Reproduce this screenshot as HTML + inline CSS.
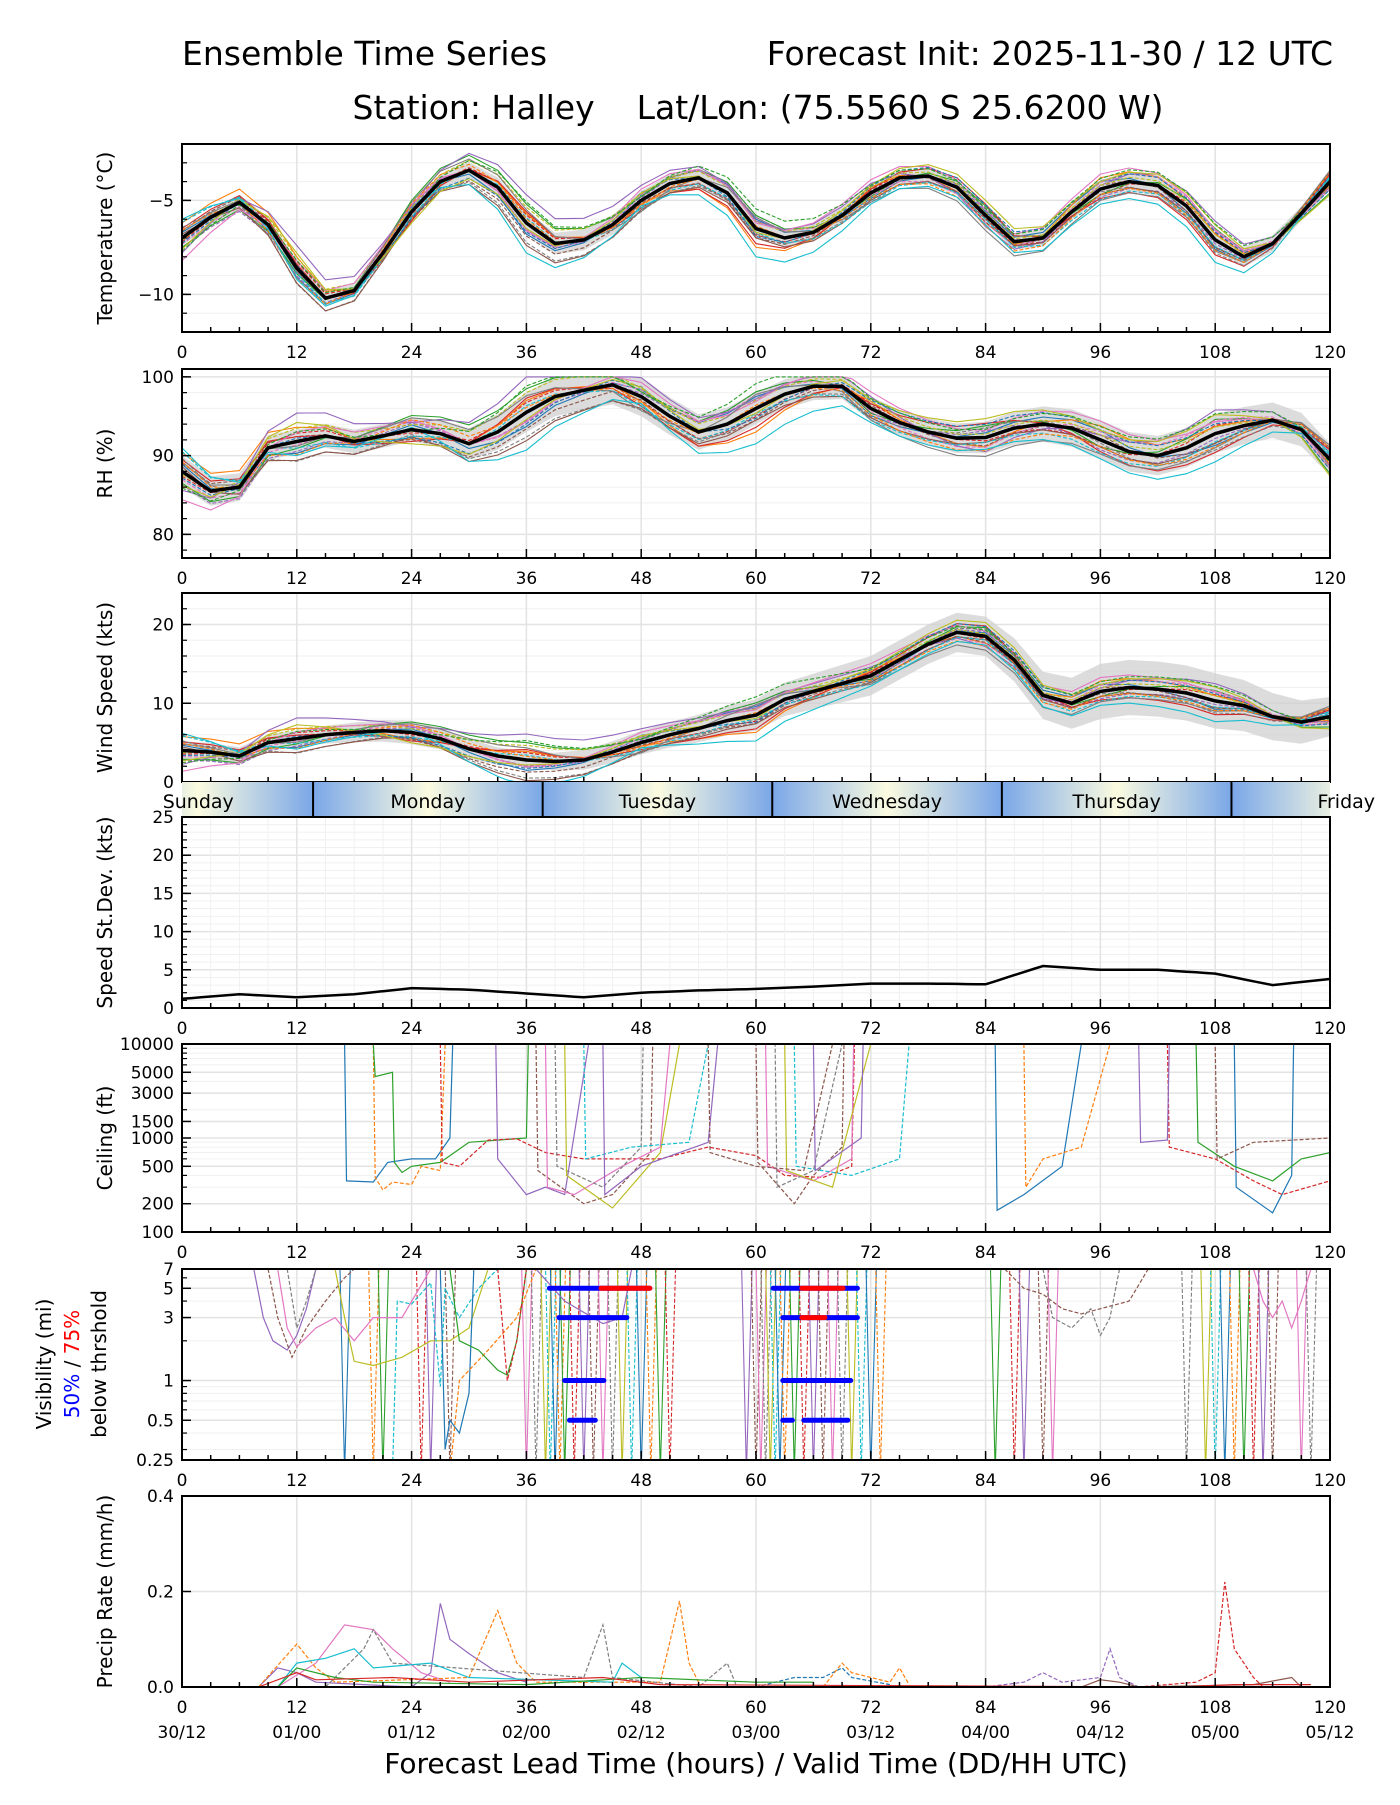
<!DOCTYPE html>
<html><head><meta charset="utf-8"><style>
body{margin:0;background:#fff}
svg text{font-family:"DejaVu Sans","Liberation Sans",sans-serif;fill:#000}
</style></head><body>
<svg id="chart" xmlns="http://www.w3.org/2000/svg" width="1400" height="1800" viewBox="0 0 1400 1800">
<rect width="1400" height="1800" fill="#fff"/>
<text x="182" y="65" font-size="33">Ensemble Time Series</text>
<text x="1333" y="65" font-size="33" text-anchor="end">Forecast Init: 2025-11-30 / 12 UTC</text>
<text x="758" y="119" font-size="33" text-anchor="middle" style="white-space:pre" xml:space="preserve">Station: Halley    Lat/Lon: (75.5560 S 25.6200 W)</text>
<text x="756" y="1773" font-size="28" text-anchor="middle">Forecast Lead Time (hours) / Valid Time (DD/HH UTC)</text>
</svg>
<script>
const tempMean=[-7.0,-5.9,-5.1,-6.3,-8.6,-10.2,-9.8,-7.8,-5.6,-4.0,-3.4,-4.3,-6.2,-7.3,-7.1,-6.3,-5.0,-4.1,-3.8,-4.6,-6.5,-7.0,-6.7,-5.8,-4.6,-3.8,-3.7,-4.3,-5.8,-7.2,-7.0,-5.6,-4.4,-4.0,-4.2,-5.3,-7.1,-8.0,-7.3,-5.7,-4.0];
const rhMean=[88,85.5,86,91,91.8,92.5,91.8,92.5,93.3,92.8,91.5,93,95.5,97.5,98.3,99,97.5,95,93,94,96,97.8,98.8,98.8,96,94.2,93,92.2,92.3,93.5,94,93.5,92,90.5,90,91,92.8,93.8,94.5,93.3,89.5];
const windMean=[4,3.8,3.3,5,5.5,6,6.3,6.5,6.3,5.5,4.2,3.3,2.8,2.6,2.8,3.8,5,6,6.8,7.8,8.5,10.5,11.5,12.5,13.5,15.5,17.5,19,18.5,15.5,11,10,11.5,12,11.8,11.3,10.3,9.7,8.3,7.6,8.3];
const stdDev=[1.2,1.8,1.4,1.8,2.6,2.4,1.9,1.4,2.0,2.3,2.5,2.8,3.2,3.2,3.1,5.5,5.0,5.0,4.5,3.0,3.8];
const tempBand=[0.4,0.4,0.3,0.6,0.5,0.5,0.4,0.4,0.5,0.6,0.3];
const rhBand=[2,1.5,1.5,2.5,2.5,2,1.5,2,2.5,2.5,2];
const windBand=[1.2,1,1.5,1,1.5,2,2.5,2.5,3.5,3.5,2.5];
const memberOffsets=[
[0.3,-0.5,0.2,-0.6,0.3,0.5,-0.3,0.2,0.4,-0.5,0.3],
[0.8,0.6,-0.4,0.5,-0.2,-1.0,0.3,-0.4,0.6,0.3,-0.2],
[-0.5,-0.3,0.6,1.0,0.2,0.7,-0.2,0.5,-0.3,0.6,-0.6],
[0.5,0.2,-0.5,0.6,-0.4,-0.8,0.2,0.6,-0.5,-0.8,0.4],
[-0.8,1.2,0.3,1.5,0.8,0.4,0.5,-0.6,0.2,1.0,-0.3],
[0.2,-0.8,-0.3,-1.2,-0.5,-0.5,-0.4,-0.2,-0.3,-0.4,0.5],
[-1.2,0.4,0.4,-0.4,0.6,0.3,0.7,0.3,0.8,0.5,-0.4],
[0.4,-0.2,0.5,0.7,-0.6,0.6,-0.5,-0.8,-0.6,-0.6,0.6],
[-0.6,0.8,-0.6,-0.3,0.4,-0.2,0.4,0.8,0.4,0.8,-0.7],
[1.0,-0.6,0.1,-1.6,-0.3,-1.5,-0.6,-0.5,-0.8,-1.2,0.2]];
const ceilMembers=[
[[17,10000],[17.2,350],[20,340],[21.5,550],[24,600],[26.5,600],[28,1000],[28.3,10000]],
[[20,10000],[20.2,380],[21,280],[22,340],[24,320],[25,500],[27,450],[27.5,10000]],
[[20,10000],[20.2,4500],[22,5000],[22.2,550],[23,430],[24,500],[27,550],[30,900],[36,1000],[36.2,10000]],
[[27,10000],[27.2,550],[29,500],[32,950],[35,980],[38,700],[42,600],[50,600],[55,800],[60,650],[63,400],[67,380],[70,500],[70.3,10000]],
[[32.8,10000],[33,600],[36,250],[38,300],[40,250],[42.5,10000]],
[[37,10000],[37.2,450],[42,200],[45,250],[49,700],[49.2,10000],[60,10000],[60.2,550],[64,200],[66,400],[69,800],[69.2,10000]],
[[38,10000],[38.2,300],[41,250],[46,500],[50,800],[51,10000],[61,10000],[61.2,500],[66,350],[70,600],[70.2,10000]],
[[39,10000],[39.2,500],[44,300],[48,800],[48.2,10000],[62,10000],[62.2,300],[66,450],[69,10000]],
[[40,10000],[40.2,400],[45,180],[50,700],[52,10000],[63,10000],[63.2,450],[68,300],[72,10000]],
[[42,10000],[42.2,600],[47,800],[53,900],[55,10000],[64,10000],[64.2,500],[70,400],[75,600],[76,10000]],
[[85,10000],[85.2,170],[88,250],[92,500],[94,10000],[110,10000],[110.2,300],[114,160],[116,400],[116.2,10000]],
[[88,10000],[88.2,300],[90,600],[94,800],[97,10000]],
[[106,10000],[106.2,900],[110,500],[114,350],[117,600],[120,700]],
[[103,10000],[103.2,800],[108,600],[112,350],[115,250],[120,350]],
[[44,10000],[44.2,250],[48,500],[55,900],[56,10000],[66,10000],[66.2,450],[71,1000],[71.2,10000],[100,10000],[100.2,900],[103,950],[103.2,10000]],
[[55,10000],[55.2,700],[60,500],[65,450],[68,10000],[108,10000],[108.2,600],[112,900],[120,1000]]];
const visMembers=[
[[7.5,7],[8.5,3],[9.5,2],[11,1.7],[12,2.2],[13,3.5],[14,7]],
[[9,7],[10,3],[11.5,1.5],[13,2.5],[15,4],[17,6],[18,7]],
[[10,7],[11,2.5],[12,1.8],[14,2.5],[16,3],[18,2],[20,3],[23,3],[26,7]],
[[11,7],[12,2.5],[13,4],[14,7]],
[[16,7],[17,3],[18,1.4],[20,1.3],[23,1.5],[26,2],[28,2],[30,2.5],[32,7]],
[[22,0.2],[22.5,4],[24,3.8],[26,5.5],[27,0.9],[27.5,5],[29,3],[31,5],[33,7]],
[[27,7],[27.5,0.3],[28,0.5],[29,0.4],[30,0.8],[30.5,7]],
[[28,0.2],[29,1],[32,1.7],[35,3],[37,7]],
[[28,7],[29,2],[31,1.7],[33,1.2],[34,1.1],[35,2],[36,7]],
[[33,7],[34,1],[35,2],[36,7]],
[[37,7],[40,4],[44,2.7],[46,3],[47,7]],
[[86,7],[88,5],[90,4.5],[92,3.5],[94,3.2],[96,3.5],[99,4],[101,7]],
[[112,7],[113,4],[114,3],[115,4],[116,2.5],[117,4],[118,7]],
[[90,7],[91,3],[93,2.5],[95,3.5],[96,2.2],[97,3],[98,7]]];
const visDropHours=[17,20,21,25,26,28,36,37,38,38.5,39,39.5,40,41,42,43,44,45,46,47,48,49,50,51,59,60,60.5,61,61.5,62,62.5,63,64,65,66,67,68,69,70,71,72,73,85,87,88,90,91,105,107,108,109,110,111,112,113,114,117,118];
const visBlue=[[5,38.4,48.9],[5,61.8,70.6],[3,39.4,46.5],[3,62.8,70.6],[1,40,44.1],[1,62.8,69.9],[0.5,40.5,43.2],[0.5,62.8,63.8],[0.5,65,69.6]];
const visRed=[[5,43.8,48.9],[5,64.8,69.1],[3,64.8,67.2]];
const precipMembers=[
[[8,0],[10,0.04],[12,0.03],[14,0.01],[24,0],[26,0.03],[27,0.175],[28,0.1],[30,0.07],[33,0.03],[36,0.01]],
[[10,0],[14,0.05],[17,0.13],[20,0.12],[22,0.08],[25,0.03],[28,0.01]],
[[8,0],[12,0.09],[14,0.04],[16,0.01],[30,0.02],[33,0.16],[35,0.05],[37,0.01],[50,0.01],[52,0.18],[53,0.05],[54,0.01]],
[[15,0],[19,0.08],[20,0.12],[22,0.05],[42,0.02],[44,0.13],[45,0.02],[54,0],[57,0.05],[58,0]],
[[10,0],[12,0.05],[15,0.06],[18,0.08],[20,0.04],[26,0.05],[30,0.02],[45,0.01],[46,0.05],[48,0.02]],
[[60,0],[64,0.02],[67,0.02],[69,0.04],[70,0.02],[74,0.005]],
[[67,0],[69,0.05],[70,0.03],[74,0.01],[75,0.04],[76,0.005]],
[[84,0],[88,0.01],[90,0.03],[92,0.01],[96,0.02],[97,0.08],[98,0.02],[100,0]],
[[100,0],[106,0.01],[108,0.03],[109,0.22],[110,0.08],[112,0.02],[113,0]],
[[94,0],[96,0.015],[98,0.01],[100,0],[112,0.005],[116,0.02],[117,0]],
[[10,0],[12,0.04],[16,0.02],[20,0.01],[36,0.005],[48,0.02],[60,0.01],[66,0.01]],
[[8,0],[12,0.03],[14,0.015],[22,0.02],[30,0.01],[44,0.02],[50,0.005],[104,0],[110,0.005],[118,0.005]]];
const precipColors=["#9467bd","#e377c2","#ff7f0e","#7f7f7f","#17becf","#1f77b4","#ff7f0e","#9467bd","#d62728","#8c564b","#2ca02c","#d62728"];
const precipDashed=[false,false,true,true,false,true,true,true,true,false,false,false];
const xTickLabels=["0","12","24","36","48","60","72","84","96","108","120"];
const dateLabels=["30/12","01/00","01/12","02/00","02/12","03/00","03/12","04/00","04/12","05/00","05/12"];
const dayNames=["Sunday","Monday","Tuesday","Wednesday","Thursday","Friday"];

const NS="http://www.w3.org/2000/svg";
const svg=document.getElementById('chart');
const colors=["#1f77b4","#ff7f0e","#2ca02c","#d62728","#9467bd","#8c564b","#e377c2","#7f7f7f","#bcbd22","#17becf"];
const X0=182,X1=1330;
const X=h=>X0+(h/120)*(X1-X0);
function el(tag,attrs,parent){const e=document.createElementNS(NS,tag);for(const k in attrs)e.setAttribute(k,attrs[k]);(parent||svg).appendChild(e);return e;}
function at(arr,step,h){const i=Math.min(Math.floor(h/step),arr.length-2);const f=(h-i*step)/step;return arr[i]+(arr[i+1]-arr[i])*f;}
let clipN=0;
function panel(name,top,bot,ymin,ymax,log,yTicks,yTickLabels,yMinor,xLabels,title,titleX){
  const Y=log?(v=>bot-(Math.log10(Math.max(v,1e-6))-Math.log10(ymin))/(Math.log10(ymax)-Math.log10(ymin))*(bot-top)):(v=>bot-(v-ymin)/(ymax-ymin)*(bot-top));
  const g=el('g',{});
  
  
  for(const v of yMinor){const y=Y(v);el('line',{x1:X0,x2:X1,y1:y,y2:y,stroke:'#f0f0f0','stroke-width':1},g);}
  for(let h=0;h<=120;h+=12){el('line',{x1:X(h),x2:X(h),y1:top,y2:bot,stroke:'#e3e3e3','stroke-width':1.5},g);}
  for(const v of yTicks){const y=Y(v);el('line',{x1:X0,x2:X1,y1:y,y2:y,stroke:'#e3e3e3','stroke-width':1.5},g);}
  const cid='clip'+(clipN++);
  const cp=el('clipPath',{id:cid},g);el('rect',{x:X0,y:top,width:X1-X0,height:bot-top},cp);
  const plot=el('g',{'clip-path':'url(#'+cid+')'},g);
  
  
  const ax=el('g',{},svg);
  
  
  for(let h=0;h<=120;h+=3){const major=h%12===0;el('line',{x1:X(h),x2:X(h),y1:bot,y2:bot-(major?9:5),stroke:'#000','stroke-width':1.5},ax);}
  yTicks.forEach((v,i)=>{const y=Y(v);el('line',{x1:X0,x2:X0+9,y1:y,y2:y,stroke:'#000','stroke-width':1.5},ax);
    const t=el('text',{x:X0-8,y:y+6,'font-size':17,'text-anchor':'end'},ax);t.textContent=yTickLabels[i];
    
    });
  for(const v of yMinor){const y=Y(v);el('line',{x1:X0,x2:X0+5,y1:y,y2:y,stroke:'#000','stroke-width':1.2},ax);}
  el('rect',{x:X0,y:top,width:X1-X0,height:bot-top,fill:'none',stroke:'#000','stroke-width':2},ax);
  if(xLabels){xTickLabels.forEach((s,i)=>{const t=el('text',{x:X(i*12),y:bot+26,'font-size':17,'text-anchor':'middle'},ax);t.textContent=s;
    
    });}
  if(title){const tx=titleX||112;const cy=(top+bot)/2;const t=el('text',{x:tx,y:cy,'font-size':20,'text-anchor':'middle',transform:'rotate(-90 '+tx+' '+cy+')'},ax);t.textContent=title;
    
    }
  return {Y,plot};
}
function pathD(pts){return pts.map((p,i)=>(i?'L':'M')+p[0].toFixed(1)+','+p[1].toFixed(1)).join('');}
function ensemble(name,P,mean,band,scale,lo,hi){
  const up=[],dn=[];
  for(let h=0;h<=120;h+=1){const m=at(mean,3,h),b=at(band,12,h);up.push([X(h),P.Y(Math.min(hi,m+b))]);dn.push([X(h),P.Y(Math.max(lo,m-b))]);}
  const bd=el('path',{d:pathD(up)+'L'+dn.reverse().map(p=>p[0].toFixed(1)+','+p[1].toFixed(1)).join('L')+'Z',fill:'#d0d0d0','fill-opacity':0.75},P.plot);
  
  
  memberOffsets.forEach((off,k)=>{
    for(const sgn of [1,-0.7]){
      const pts=[];for(let h=0;h<=120;h+=1){let v=at(mean,3,h)+sgn*scale*at(off,12,h);v=Math.min(hi,Math.max(lo,v));pts.push([X(h),P.Y(v)]);}
      const p=el('path',{d:pathD(pts),fill:'none',stroke:colors[(k+(sgn<0?3:0))%10],'stroke-width':1.1,'stroke-dasharray':sgn<0?'4,2':'none'},P.plot);
      
      
    }
  });
  const pts=[];for(let h=0;h<=120;h+=1)pts.push([X(h),P.Y(at(mean,3,h))]);
  const ml=el('path',{d:pathD(pts),fill:'none',stroke:'#000','stroke-width':3.5},P.plot);
  
  
}
function range(a,b,s){const r=[];for(let v=a;v<=b+1e-9;v+=s)r.push(+v.toFixed(3));return r;}

const P1=panel('temperature',144,332,-12,-2,false,[-10,-5],['\u221210','\u22125'],range(-12,-2,1),true,'Temperature (\u00b0C)');
ensemble('temperature',P1,tempMean,tempBand,1,-20,5);
const P2=panel('rh',369,558,77,101,false,[80,90,100],['80','90','100'],range(78,100,2),true,'RH (%)');
ensemble('rh',P2,rhMean,rhBand,3,70,100);
const P3=panel('wind-speed',593,782,0,24,false,[0,10,20],['0','10','20'],range(0,24,2),false,'Wind Speed (kts)');
ensemble('wind-speed',P3,windMean,windBand,2.2,0,40);
(function(){
  const g=el('g',{});
  
  
  const defs=el('defs',{},g);
  const lg=el('linearGradient',{id:'dayGrad',x1:0,x2:1,y1:0,y2:0},defs);
  el('stop',{offset:'0','stop-color':'#7aa7e8'},lg);el('stop',{offset:'0.5','stop-color':'#fbfbe0'},lg);el('stop',{offset:'1','stop-color':'#7aa7e8'},lg);
  const cp=el('clipPath',{id:'dayClip'},defs);el('rect',{x:X0,y:782,width:X1-X0,height:35},cp);
  const inner=el('g',{'clip-path':'url(#dayClip)'},g);
  dayNames.forEach((d,i)=>{const s=13.7+24*(i-1);el('rect',{x:X(s),y:782,width:X(s+24)-X(s),height:35,fill:'url(#dayGrad)'},inner);
    if(i>0)el('line',{x1:X(s),x2:X(s),y1:782,y2:817,stroke:'#000','stroke-width':2},g);});
  dayNames.forEach((d,i)=>{const c=13.7+24*(i-1)+12;const t=el('text',{x:X(c),y:808,'font-size':19,'text-anchor':'middle'},g);t.textContent=d;
    
    });
})();
const P4=panel('speed-stdev',817,1008,0,25,false,[0,5,10,15,20,25],['0','5','10','15','20','25'],range(0,25,1),true,'Speed St.Dev. (kts)');
for(let h=3;h<120;h+=3){if(h%12)el('line',{x1:X(h),x2:X(h),y1:817,y2:1008,stroke:'#f0f0f0','stroke-width':1},P4.plot);}
(function(){const pts=[];for(let h=0;h<=120;h+=1)pts.push([X(h),P4.Y(at(stdDev,6,h))]);
  const p=el('path',{d:pathD(pts),fill:'none',stroke:'#000','stroke-width':2.5},P4.plot);
  
  })();
const P5=panel('ceiling',1044,1232,100,10000,true,[100,200,500,1000,1500,3000,5000,10000],['100','200','500','1000','1500','3000','5000','10000'],[300,400,600,700,800,900,2000,4000,6000,7000,8000,9000],true,'Ceiling (ft)');
ceilMembers.forEach((m,k)=>{const p=el('path',{d:pathD(m.map(q=>[X(q[0]),P5.Y(q[1])])),fill:'none',stroke:colors[k%10],'stroke-width':1.2,'stroke-dasharray':k%2?'4,2':'none'},P5.plot);
  
  });
const P6=panel('visibility',1269,1460,0.25,7,true,[0.25,0.5,1,3,5,7],['0.25','0.5','1','3','5','7'],[0.3,0.4,0.6,0.7,0.8,0.9,2,4,6],true,null);
(function(){const g=el('g',{});
  
  
  const cy=1364;
  const t1=el('text',{x:51,y:cy,'font-size':20,'text-anchor':'middle',transform:'rotate(-90 51 '+cy+')'},g);t1.textContent='Visibility (mi)';
  const t2=el('text',{x:79,y:cy,'font-size':20,'text-anchor':'middle',transform:'rotate(-90 79 '+cy+')'},g);
  const a=el('tspan',{fill:'#0000ff'},t2);a.textContent='50%';const b=el('tspan',{},t2);b.textContent=' / ';const c=el('tspan',{fill:'#ff0000'},t2);c.textContent='75%';
  const t3=el('text',{x:106,y:cy,'font-size':20,'text-anchor':'middle',transform:'rotate(-90 106 '+cy+')'},g);t3.textContent='below thrshold';})();
visDropHours.forEach((h,k)=>{const p=el('path',{d:pathD([[X(h-0.5),P6.Y(7.5)],[X(h),P6.Y(0.2)],[X(h+0.6),P6.Y(7.5)]]),fill:'none',stroke:colors[k%10],'stroke-width':1.1,'stroke-dasharray':k%2?'4,2':'none'},P6.plot);
  
  });
visMembers.forEach((m,k)=>{const p=el('path',{d:pathD(m.map(q=>[X(q[0]),P6.Y(q[1])])),fill:'none',stroke:colors[(k+4)%10],'stroke-width':1.2,'stroke-dasharray':k%2?'4,2':'none'},P6.plot);
  
  });
visBlue.forEach(s=>{const l=el('line',{x1:X(s[1]),x2:X(s[2]),y1:P6.Y(s[0]),y2:P6.Y(s[0]),stroke:'#0000ff','stroke-width':5,'stroke-linecap':'round'},P6.plot);
  
  });
visRed.forEach(s=>{const l=el('line',{x1:X(s[1]),x2:X(s[2]),y1:P6.Y(s[0]),y2:P6.Y(s[0]),stroke:'#ff0000','stroke-width':5,'stroke-linecap':'round'},P6.plot);
  
  });
const P7=panel('precip',1496,1687,0,0.4,false,[0,0.2,0.4],['0.0','0.2','0.4'],[],true,'Precip Rate (mm/h)');
precipMembers.forEach((m,k)=>{const p=el('path',{d:pathD(m.map(q=>[X(q[0]),P7.Y(q[1])])),fill:'none',stroke:precipColors[k],'stroke-width':1.2,'stroke-dasharray':precipDashed[k]?'4,2':'none'},P7.plot);
  
  });
dateLabels.forEach((s,i)=>{const t=el('text',{x:X(i*12),y:1738,'font-size':17,'text-anchor':'middle'});t.textContent=s;
  
  });
</script>
</body></html>
